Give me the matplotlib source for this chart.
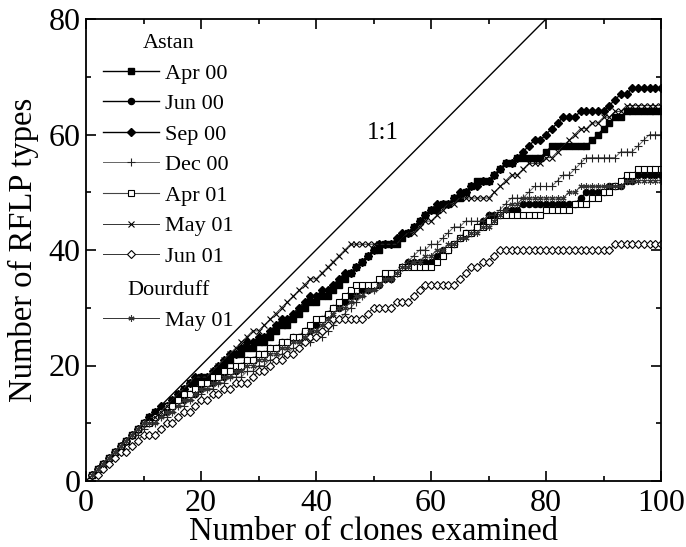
import numpy as np
import matplotlib
matplotlib.use('Agg')
import matplotlib.pyplot as plt
from matplotlib.font_manager import FontProperties
from matplotlib.ticker import MultipleLocator

# clones examined (1..100)
clones = np.arange(1, 101)

# cumulative number of RFLP types
apr00 = [1, 2, 3, 4, 5, 6, 7, 8, 9, 10,
         11, 12, 12, 13, 14, 15, 16, 17, 17, 18,
         18, 18, 19, 20, 21, 22, 22, 23, 23, 24,
         24, 25, 26, 27, 27, 28, 29, 30, 31, 31,
         32, 32, 33, 34, 35, 36, 37, 38, 39, 40,
         40, 41, 41, 41, 42, 43, 44, 45, 46, 47,
         47, 48, 48, 49, 49, 50, 51, 52, 52, 52,
         53, 54, 55, 55, 56, 56, 56, 56, 56, 57,
         58, 58, 58, 58, 58, 58, 58, 59, 60, 61,
         62, 63, 63, 64, 64, 64, 64, 64, 64, 64]
jun00 = [1, 2, 3, 4, 5, 6, 7, 8, 9, 10,
         10, 11, 12, 12, 13, 14, 14, 15, 15, 16,
         17, 17, 18, 18, 19, 19, 20, 21, 21, 22,
         22, 23, 23, 24, 24, 25, 25, 26, 26, 27,
         28, 29, 30, 30, 31, 32, 32, 33, 33, 34,
         34, 35, 35, 36, 37, 38, 38, 38, 38, 38,
         39, 40, 40, 41, 42, 43, 43, 44, 45, 46,
         46, 46, 47, 47, 47, 48, 48, 48, 48, 48,
         48, 48, 48, 48, 48, 49, 50, 50, 50, 50,
         51, 51, 51, 52, 52, 53, 53, 53, 53, 53]
sep00 = [1, 2, 3, 4, 5, 6, 7, 8, 9, 10,
         11, 12, 13, 13, 14, 15, 16, 17, 18, 18,
         18, 19, 20, 21, 22, 22, 23, 24, 24, 25,
         25, 26, 27, 28, 28, 29, 30, 31, 32, 32,
         33, 33, 34, 35, 36, 36, 37, 38, 39, 40,
         41, 41, 41, 42, 43, 43, 44, 45, 46, 47,
         48, 48, 48, 49, 50, 50, 51, 51, 52, 52,
         53, 54, 55, 55, 56, 57, 58, 59, 59, 60,
         61, 62, 63, 63, 63, 64, 64, 64, 64, 64,
         65, 66, 67, 67, 68, 68, 68, 68, 68, 68]
dec00 = [1, 2, 3, 4, 5, 6, 7, 8, 8, 9,
         10, 10, 11, 11, 12, 13, 13, 14, 15, 15,
         16, 16, 17, 17, 18, 18, 18, 19, 19, 20,
         20, 21, 21, 22, 22, 23, 23, 24, 24, 25,
         25, 26, 27, 28, 29, 30, 31, 32, 33, 33,
         34, 35, 35, 36, 37, 38, 39, 40, 40, 41,
         41, 42, 43, 44, 44, 45, 45, 45, 45, 46,
         46, 47, 48, 49, 49, 49, 50, 51, 51, 51,
         51, 52, 53, 53, 54, 55, 56, 56, 56, 56,
         56, 56, 57, 57, 57, 58, 59, 60, 60, 60]
apr01 = [1, 2, 3, 4, 5, 6, 7, 8, 9, 10,
         10, 11, 12, 13, 13, 14, 15, 15, 16, 17,
         17, 18, 18, 19, 19, 20, 20, 21, 21, 22,
         22, 23, 23, 24, 24, 25, 25, 26, 27, 28,
         28, 29, 30, 31, 32, 33, 34, 34, 34, 34,
         35, 36, 36, 36, 37, 37, 37, 37, 37, 37,
         38, 39, 40, 41, 42, 43, 43, 44, 44, 45,
         45, 46, 46, 46, 46, 46, 46, 46, 46, 47,
         47, 47, 47, 47, 48, 48, 48, 49, 49, 50,
         50, 51, 52, 53, 53, 54, 54, 54, 54, 54]
may01 = [1, 2, 3, 4, 5, 6, 7, 8, 9, 10,
         11, 11, 12, 13, 14, 15, 16, 17, 18, 18,
         18, 19, 20, 21, 22, 23, 24, 25, 26, 26,
         27, 28, 29, 30, 31, 32, 33, 34, 35, 35,
         36, 37, 38, 39, 40, 41, 41, 41, 41, 41,
         41, 41, 41, 41, 42, 43, 43, 44, 45, 45,
         46, 47, 48, 48, 49, 49, 49, 49, 49, 49,
         50, 51, 52, 53, 53, 54, 55, 55, 55, 56,
         56, 57, 58, 59, 60, 61, 61, 62, 62, 63,
         63, 64, 64, 65, 65, 65, 65, 65, 65, 65]
jun01 = [1, 1, 2, 3, 4, 5, 5, 6, 7, 8,
         8, 8, 9, 10, 10, 11, 12, 12, 13, 14,
         14, 15, 15, 16, 16, 17, 17, 17, 18, 19,
         19, 20, 21, 21, 22, 22, 23, 24, 25, 25,
         26, 27, 28, 28, 28, 28, 28, 28, 29, 30,
         30, 30, 30, 31, 31, 31, 32, 33, 34, 34,
         34, 34, 34, 34, 35, 36, 37, 37, 38, 38,
         39, 40, 40, 40, 40, 40, 40, 40, 40, 40,
         40, 40, 40, 40, 40, 40, 40, 40, 40, 40,
         40, 41, 41, 41, 41, 41, 41, 41, 41, 41]
dour_may01 = [1, 2, 3, 4, 5, 6, 7, 8, 9, 10,
              10, 10, 11, 12, 12, 13, 14, 14, 15, 16,
              16, 17, 17, 18, 18, 19, 19, 20, 20, 21,
              21, 22, 22, 23, 23, 24, 24, 25, 26, 26,
              27, 28, 29, 30, 30, 31, 32, 32, 33, 33,
              34, 35, 35, 36, 37, 37, 38, 38, 39, 39,
              40, 40, 41, 41, 42, 42, 43, 43, 44, 44,
              45, 46, 47, 48, 48, 49, 49, 49, 49, 49,
              49, 49, 49, 50, 50, 51, 51, 51, 51, 51,
              51, 51, 51, 52, 52, 52, 52, 52, 52, 52]

serif = ['Liberation Serif', 'DejaVu Serif']
plt.rcParams['font.family'] = serif

fig = plt.figure(figsize=(6.86, 5.47), dpi=100)
ax = fig.add_axes([86 / 686, 1 - 481 / 547, 575 / 686, 462 / 547])

# 1:1 reference line
ax.plot([0, 80], [0, 80], color='black', lw=1.0, zorder=1)
ax.text(51.7, 60.2, '1:1', fontsize=18, ha='center', va='center')

ms = 4.4
styles = [
    ('Apr 00', apr00, dict(marker='s', mfc='black', mec='black', ms=ms, color='black', lw=1.0)),
    ('Jun 00', jun00, dict(marker='o', mfc='black', mec='black', ms=ms, color='black', lw=1.0)),
    ('Sep 00', sep00, dict(marker='D', mfc='black', mec='black', ms=ms - 0.6, color='black', lw=1.0)),
    ('Dec 00', dec00, dict(marker='+', mec='#222222', ms=ms + 1.5, mew=0.8, color='#666666', lw=0.7)),
    ('Apr 01', apr01, dict(marker='s', mfc='white', mec='black', ms=ms, mew=0.8, color='#444444', lw=0.8)),
    ('May 01', may01, dict(marker='x', mec='black', ms=ms, mew=0.8, color='#333333', lw=0.7)),
    ('Jun 01', jun01, dict(marker='D', mfc='white', mec='black', ms=ms - 0.2, mew=0.8, color='#333333', lw=0.7)),
    ('May 01', dour_may01, dict(marker=(6, 2, 0), mec='#333333', ms=ms, mew=0.8, color='#333333', lw=0.7)),
]

handles = []
for label, vals, kw in styles:
    ln, = ax.plot(clones, vals, label=label, zorder=2, **kw)
    handles.append(ln)

ax.set_xlim(0, 100)
ax.set_ylim(0, 80)
ax.xaxis.set_major_locator(MultipleLocator(20))
ax.xaxis.set_minor_locator(MultipleLocator(10))
ax.yaxis.set_major_locator(MultipleLocator(20))
ax.yaxis.set_minor_locator(MultipleLocator(10))
ax.tick_params(which='both', direction='in', top=True, right=True, width=1.2)
ax.tick_params(which='major', length=7, labelsize=23)
ax.tick_params(axis='x', which='major', pad=6)
ax.tick_params(axis='y', which='major', pad=4)
ax.tick_params(which='minor', length=3.5)
for s in ax.spines.values():
    s.set_linewidth(1.3)

ax.set_xlabel('Number of clones examined', fontsize=23.5)
ax.xaxis.set_label_coords(0.5, -0.077)
ax.set_ylabel('Number of RFLP types', fontsize=23.5)
ax.yaxis.set_label_coords(-0.082, 0.5)

fp = FontProperties(family=serif, size=16)
leg_kw = dict(loc='upper left', bbox_transform=fig.transFigure, frameon=False,
              borderpad=0, borderaxespad=0, prop=fp, title_fontproperties=fp,
              handlelength=2.5, handletextpad=0.3, labelspacing=0.45)
leg1 = ax.legend(handles=handles[:7], title='Astan',
                 bbox_to_anchor=(103 / 686, 1 - 34 / 547), **leg_kw)
ax.add_artist(leg1)
ax.legend(handles=handles[7:], title='Dourduff',
          bbox_to_anchor=(103 / 686, 1 - 281 / 547), **leg_kw)

fig.savefig('out.png', dpi=100)
